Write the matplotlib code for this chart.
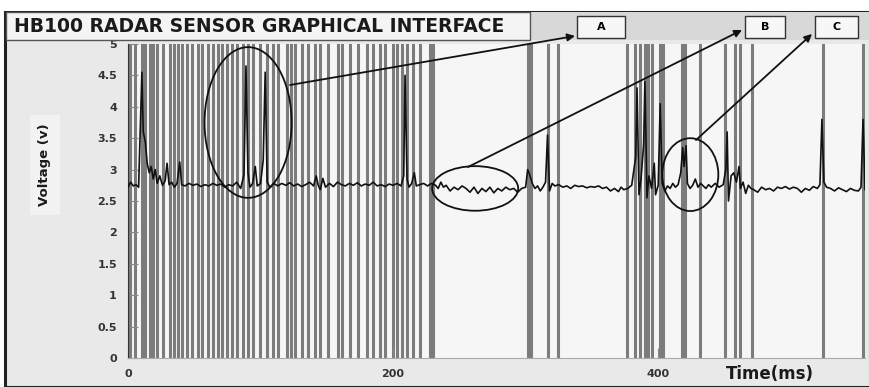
import matplotlib.pyplot as plt
from matplotlib.patches import Ellipse, Rectangle, FancyArrowPatch

# Waktu deteksi (garis vertikal abu-abu), ms
detect_times = [1.5, 5.3, 10.6, 12.8, 16.6, 18.9, 21.9, 26.4, 31.7, 34.7, 37.7,
                40.8, 44.5, 48.3, 52.8, 55.8, 60.4, 64.2, 67.9, 70.9, 74.7, 78.5,
                82.3, 86.8, 90.6, 94.3, 99.6, 104.9, 109.4, 113.2, 120.0, 123.0,
                126.0, 131.3, 135.8, 141.1, 144.9, 150.9, 158.5, 161.5, 167.5,
                173.6, 180.4, 184.9, 190.2, 194.0, 200.0, 203.0, 206.8, 210.6,
                215.1, 220.4, 227.9, 230.2, 301.9, 304.2, 317.0, 324.5, 376.6,
                382.6, 386.4, 390.2, 392.5, 395.5, 401.5, 403.8, 418.1, 420.4,
                431.7, 450.6, 458.1, 461.9, 470.9, 524.5, 554.7]

# Sinyal tegangan sensor
time_ms = [0, 2, 4, 6, 8, 10.5, 11.5, 13, 14.5, 16, 17.5, 19, 20.5, 22, 24, 26, 28,
           29.5, 31, 33, 35, 37, 39, 40.5, 43, 46, 49, 52, 55, 58, 61, 64, 67, 70,
           73, 76, 79, 82, 85, 87.5, 89, 90.5, 92, 94, 96, 97.5, 100, 102, 103.5,
           105, 107, 110, 113, 116, 119, 122, 125, 128, 131, 134, 137, 140, 142,
           143.5, 145, 147, 149, 152, 155, 158, 161, 164, 167, 170, 173, 176, 179,
           182, 185, 188, 191, 194, 197, 200, 203, 206, 208, 209, 210.5, 212, 214,
           216, 217.5, 220, 223, 226, 229, 232, 234, 236, 238, 240, 243, 246, 249,
           252, 255, 258, 261, 264, 267, 270, 273, 276, 279, 282, 285, 288, 291,
           294, 297, 300, 301.5, 303, 305, 307, 309, 311, 313, 315, 316.5, 318,
           320, 322, 325, 328, 331, 334, 337, 340, 343, 346, 349, 352, 355, 358,
           361, 364, 367, 370, 372, 374, 377, 380, 383, 384, 385.5, 387, 389, 390,
           391.5, 393, 395, 397, 398, 400, 401.5, 403, 405, 407, 409, 411, 413,
           415, 417, 418.5, 419.5, 421, 422, 424, 426, 428, 430, 432, 434, 436,
           438, 440, 443, 446, 449, 451, 452, 453, 455, 457, 459, 461, 462, 464,
           466, 468, 470, 472, 475, 478, 481, 484, 487, 490, 493, 496, 499, 502,
           505, 508, 511, 514, 517, 520, 522, 523.5, 525, 527, 530, 533, 536, 539,
           542, 545, 548, 551, 553, 554.5, 556]
voltage = [2.72, 2.80, 2.74, 2.76, 2.72, 4.55, 3.60, 3.45, 3.10, 2.95, 3.05, 2.85,
           3.00, 2.78, 2.90, 2.75, 2.82, 3.10, 2.76, 2.80, 2.72, 2.78, 3.12, 2.76,
           2.74, 2.78, 2.75, 2.77, 2.73, 2.76, 2.74, 2.78, 2.75, 2.77, 2.72, 2.76,
           2.74, 2.80, 2.70, 2.92, 4.65, 2.95, 2.72, 2.78, 3.05, 2.74, 2.78, 3.15,
           4.55, 2.80, 2.72, 2.78, 2.74, 2.78, 2.75, 2.79, 2.74, 2.77, 2.73, 2.76,
           2.80, 2.74, 2.90, 2.75, 2.68, 2.86, 2.72, 2.78, 2.73, 2.80, 2.76, 2.74,
           2.78, 2.75, 2.79, 2.74, 2.77, 2.75, 2.80, 2.74, 2.76, 2.73, 2.77, 2.75,
           2.78, 2.74, 2.90, 4.50, 2.85, 2.72, 2.78, 2.95, 2.74, 2.76, 2.78, 2.74,
           2.78, 2.75, 2.70, 2.80, 2.72, 2.75, 2.66, 2.72, 2.68, 2.74, 2.70, 2.64,
           2.72, 2.62, 2.70, 2.65, 2.72, 2.63, 2.70, 2.66, 2.72, 2.68, 2.70, 2.64,
           2.70, 2.72, 3.00, 2.92, 2.78, 2.70, 2.74, 2.66, 2.72, 2.80, 3.55, 2.66,
           2.78, 2.74, 2.76, 2.72, 2.74, 2.70, 2.75, 2.73, 2.74, 2.71, 2.73, 2.72,
           2.74, 2.70, 2.72, 2.66, 2.70, 2.65, 2.72, 2.68, 2.70, 2.75, 3.20, 4.30,
           2.60, 2.85, 3.40, 4.40, 2.55, 2.90, 2.70, 3.10, 2.60, 2.75, 4.05, 2.78,
           2.66, 2.74, 2.70, 2.78, 2.72, 2.76, 2.95, 3.35, 3.05, 3.38, 2.78, 2.70,
           2.75, 2.85, 2.72, 2.78, 2.74, 2.70, 2.76, 2.72, 2.78, 2.72, 2.76, 3.00,
           3.60, 2.50, 2.90, 2.95, 2.80, 3.05, 2.70, 2.80, 2.62, 2.75, 2.70, 2.68,
           2.64, 2.72, 2.68, 2.70, 2.66, 2.72, 2.70, 2.73, 2.69, 2.72, 2.70, 2.64,
           2.70, 2.67, 2.73, 2.70, 2.76, 3.80, 2.80, 2.72, 2.70, 2.66, 2.71, 2.68,
           2.65, 2.70, 2.67, 2.66, 2.72, 3.80, 2.68]

y_ticks = [0, 0.5, 1, 1.5, 2, 2.5, 3, 3.5, 4, 4.5, 5]
y_labels = ['0', '0.5', '1', '1.5', '2', '2.5', '3', '3.5', '4', '4.5', '5']
x_ticks = [0, 200, 400]

W, H = 870, 387


def fx(x, y):
    # piksel gambar -> koordinat figure
    return (x / W, 1 - y / H)


fig = plt.figure(figsize=(8.7, 3.87), dpi=100)
fig.patch.set_facecolor('white')

# latar panel dan bingkai luar
fig.add_artist(Rectangle(fx(5, 387), 865 / W, 375 / H, transform=fig.transFigure,
                         facecolor='#e9e9e9', edgecolor='#222222', lw=2.2, zorder=0))
fig.add_artist(Rectangle(fx(530, 40), 340 / W, 28 / H, transform=fig.transFigure,
                         facecolor='#d8d8d8', edgecolor='none', zorder=1))
fig.add_artist(Rectangle(fx(6, 40), 524 / W, 28 / H, transform=fig.transFigure,
                         facecolor='#f4f4f4', edgecolor='#555555', lw=1, zorder=1))
fig.text(14 / W, 1 - 26 / H, 'HB100 RADAR SENSOR GRAPHICAL INTERFACE',
         fontsize=13.5, fontweight='bold', color='#1a1a1a', va='center', ha='left')

ax = fig.add_axes([128 / W, 1 - 358 / H, 737 / W, 314 / H])
ax.set_facecolor('#f6f6f6')

for t in detect_times:
    ax.axvline(t, color='#5e5e5e', lw=2.2, alpha=0.8, zorder=1)

ax.plot(time_ms, voltage, color='#111111', lw=1.2, zorder=3)

ax.set_xlim(0, 556)
ax.set_ylim(0, 5)
ax.set_yticks(y_ticks)
ax.set_yticklabels(y_labels)
ax.set_xticks(x_ticks)
ax.tick_params(axis='both', direction='in', length=7, color='#888888',
               labelsize=8, labelcolor='#333333', pad=8)
for lab in ax.get_yticklabels() + ax.get_xticklabels():
    lab.set_fontweight('bold')
for s in ['top', 'right']:
    ax.spines[s].set_visible(False)
ax.spines['left'].set_color('#333333')
ax.spines['bottom'].set_color('#aaaaaa')

# lingkaran penanda A, B, C
ax.add_patch(Ellipse((90.6, 3.75), 65.7, 2.4, fill=False, ec='#111111', lw=1.3, zorder=4))
ax.add_patch(Ellipse((261.9, 2.70), 64.9, 0.71, fill=False, ec='#111111', lw=1.3, zorder=4))
ax.add_patch(Ellipse((424.2, 2.92), 42.3, 1.16, fill=False, ec='#111111', lw=1.3, zorder=4))

# kotak label
for name, x0, x1 in [('A', 577, 625), ('B', 745, 785), ('C', 815, 858)]:
    fig.add_artist(Rectangle(fx(x0, 38), (x1 - x0) / W, 22 / H, transform=fig.transFigure,
                             facecolor='#f7f7f7', edgecolor='#333333', lw=1, zorder=5))
    fig.text((x0 + x1) / 2 / W, 1 - 27 / H, name, fontsize=8, fontweight='bold',
             ha='center', va='center', zorder=6)

# panah
for start, end in [((290, 85), (575, 36)), ((468, 167), (742, 30)), ((696, 140), (812, 34))]:
    fig.add_artist(FancyArrowPatch(fx(*start), fx(*end), transform=fig.transFigure,
                                   arrowstyle='-|>', color='#111111', lw=1.3,
                                   mutation_scale=11, shrinkA=0, shrinkB=0, zorder=7))

fig.text(45 / W, 1 - 165 / H, 'Voltage (v)', rotation=90, fontsize=9.5,
         fontweight='bold', ha='center', va='center', color='#1a1a1a',
         bbox=dict(facecolor='#f2f2f2', edgecolor='none', pad=6))
fig.text(770 / W, 1 - 374 / H, 'Time(ms)', fontsize=12, fontweight='bold',
         ha='center', va='center', color='#1a1a1a')

plt.savefig('out.png', dpi=100)
